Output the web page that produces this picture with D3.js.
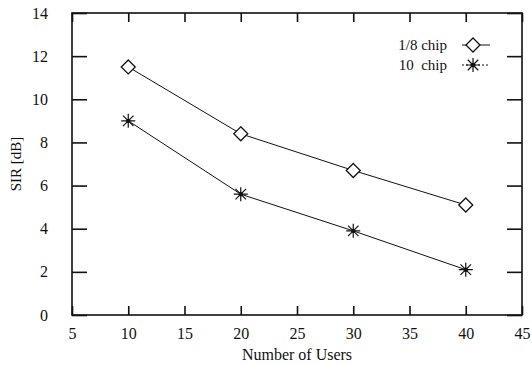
<!DOCTYPE html>
<html>
<head>
<meta charset="utf-8">
<script src="https://cdn.jsdelivr.net/npm/d3@7"></script>
<style>
  body { margin: 0; background: #fff; }
  svg, svg text { font-family: "Liberation Serif", serif !important; }
  svg { display: block; }
</style>
</head>
<body>
<div id="chart"></div>
<script>
// data
var users = [10, 20, 30, 40];
var sirEighthChip = [11.5, 8.4, 6.7, 5.1];
var sirTenChip = [9.0, 5.6, 3.9, 2.1];
var xTicks = [5, 10, 15, 20, 25, 30, 35, 40, 45];
var yTicks = [0, 2, 4, 6, 8, 10, 12, 14];
var seriesNames = ["1/8 chip", "10  chip"];

var width = 532, height = 365;
var margin = { top: 13, right: 10, bottom: 50, left: 72 };

var svg = d3.select("#chart")
  .append("svg")
  .attr("width", width)
  .attr("height", height);

var x = d3.scaleLinear().domain([5, 45]).range([margin.left, width - margin.right]);
var y = d3.scaleLinear().domain([0, 14]).range([height - margin.bottom, margin.top]);

var ink = "#111";

// frame
svg.append("rect")
  .attr("x", x(5)).attr("y", y(14))
  .attr("width", x(45) - x(5)).attr("height", y(0) - y(14))
  .attr("fill", "none").attr("stroke", ink).attr("stroke-width", 1.6);

// ticks, all pointing inward
function tickStyle(g) {
  g.attr("font-family", null);
  g.select(".domain").remove();
  g.selectAll(".tick line").attr("stroke", ink).attr("stroke-width", 1.6);
  g.selectAll(".tick text").attr("fill", ink).style("font-size", "16px");
}

svg.append("g")
  .attr("transform", "translate(0," + y(0) + ")")
  .call(d3.axisBottom(x).tickValues(xTicks).tickSize(-9).tickPadding(13))
  .call(tickStyle);

svg.append("g")
  .attr("transform", "translate(0," + y(14) + ")")
  .call(d3.axisTop(x).tickValues(xTicks).tickSize(-9).tickFormat(""))
  .call(tickStyle);

svg.append("g")
  .attr("transform", "translate(" + x(5) + ",0)")
  .call(d3.axisLeft(y).tickValues(yTicks).tickSize(-15).tickPadding(24))
  .call(tickStyle);

svg.append("g")
  .attr("transform", "translate(" + x(45) + ",0)")
  .call(d3.axisRight(y).tickValues(yTicks).tickSize(-15).tickFormat(""))
  .call(tickStyle);

// axis titles
svg.append("text")
  .attr("x", (x(5) + x(45)) / 2)
  .attr("y", 360)
  .attr("text-anchor", "middle")
  .style("font-size", "16px")
  .attr("fill", ink)
  .text("Number of Users");

svg.append("text")
  .attr("transform", "translate(21," + y(7) + ") rotate(-90)")
  .attr("text-anchor", "middle")
  .style("font-size", "15px")
  .attr("fill", ink)
  .text("SIR [dB]");

// lines
var line = d3.line().x(function (d) { return x(d[0]); }).y(function (d) { return y(d[1]); });

var seriesA = users.map(function (u, i) { return [u, sirEighthChip[i]]; });
var seriesB = users.map(function (u, i) { return [u, sirTenChip[i]]; });

svg.append("path").datum(seriesA).attr("d", line)
  .attr("fill", "none").attr("stroke", ink).attr("stroke-width", 1);
svg.append("path").datum(seriesB).attr("d", line)
  .attr("fill", "none").attr("stroke", ink).attr("stroke-width", 1);

// markers
function diamond(g, cx, cy) {
  var s = 7;
  g.append("path")
    .attr("d", "M" + cx + "," + (cy - s) + "L" + (cx + s) + "," + cy + "L" + cx + "," + (cy + s) + "L" + (cx - s) + "," + cy + "Z")
    .attr("fill", "#fff").attr("stroke", ink).attr("stroke-width", 1.3);
}
function star(g, cx, cy) {
  var s = 7;
  var d = "M" + (cx - s) + "," + cy + "L" + (cx + s) + "," + cy +
    "M" + cx + "," + (cy - s) + "L" + cx + "," + (cy + s) +
    "M" + (cx - s * 0.75) + "," + (cy - s * 0.75) + "L" + (cx + s * 0.75) + "," + (cy + s * 0.75) +
    "M" + (cx - s * 0.75) + "," + (cy + s * 0.75) + "L" + (cx + s * 0.75) + "," + (cy - s * 0.75);
  g.append("path").attr("d", d).attr("stroke", ink).attr("stroke-width", 1.2).attr("fill", "none");
  g.append("circle").attr("cx", cx).attr("cy", cy).attr("r", 2.2).attr("fill", ink);
}

var marks = svg.append("g");
seriesA.forEach(function (d) { diamond(marks, x(d[0]), y(d[1])); });
seriesB.forEach(function (d) { star(marks, x(d[0]), y(d[1])); });

// legend
var legend = svg.append("g");
var legendRows = [45, 65];
seriesNames.forEach(function (name, i) {
  legend.append("text")
    .attr("x", 447).attr("y", legendRows[i] + 5)
    .attr("text-anchor", "end")
    .style("font-size", "15px")
    .attr("fill", ink)
    .attr("xml:space", "preserve")
    .text(name);
  legend.append("line")
    .attr("x1", 462).attr("x2", 490)
    .attr("y1", legendRows[i]).attr("y2", legendRows[i])
    .attr("stroke", ink).attr("stroke-width", 1).attr("stroke-dasharray", i === 0 ? null : "2,2");
  if (i === 0) diamond(legend, 473, legendRows[i]);
  else star(legend, 473, legendRows[i]);
});
</script>
</body>
</html>
